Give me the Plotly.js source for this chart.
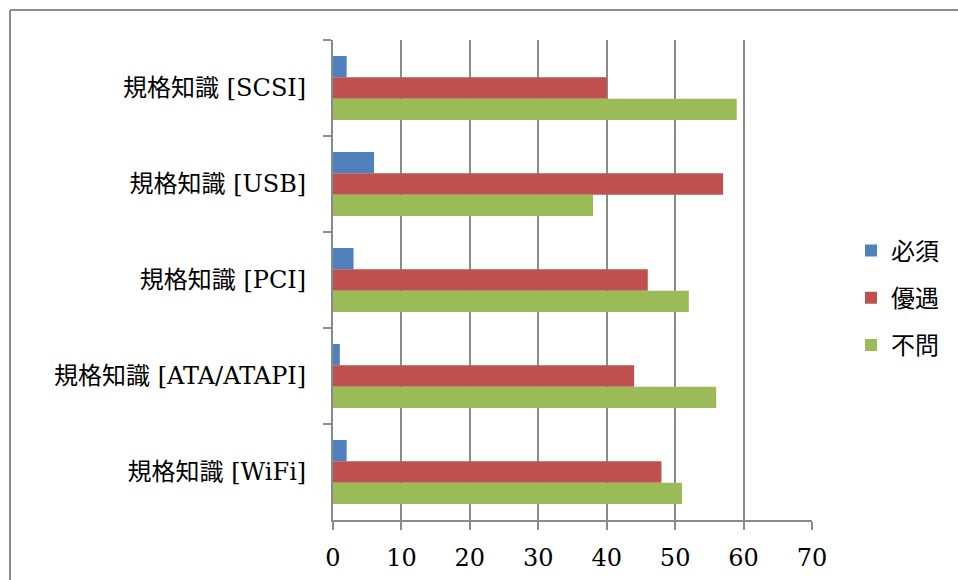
<!DOCTYPE html>
<html>
<head>
<meta charset="utf-8">
<script src="https://cdn.plot.ly/plotly-3.0.1.min.js"></script>
<style>
  html, body { margin: 0; padding: 0; background: #ffffff; }
  #chart { width: 958px; height: 580px; }
</style>
</head>
<body>
<div id="chart"></div>
<script>
// Categories (top to bottom as shown)
const categories = ["規格知識 [SCSI]", "規格知識 [USB]", "規格知識 [PCI]", "規格知識 [ATA/ATAPI]", "規格知識 [WiFi]"];
// Series names
const seriesNames = ["必須", "優遇", "不問"];
// Series values (same order as categories)
const hissu = [2, 6, 3, 1, 2];
const yuuguu = [40, 57, 46, 44, 48];
const fumon = [59, 38, 52, 56, 51];
// Axis ticks
const xTicks = [0, 10, 20, 30, 40, 50, 60, 70];

const colors = ["#4F81BD", "#C0504D", "#9BBB59"];
const seriesValues = [hissu, yuuguu, fumon];

const traces = seriesValues.map((vals, i) => ({
  type: "bar",
  orientation: "h",
  name: seriesNames[i],
  legendgroup: "g" + i,
  x: vals,
  y: categories,
  marker: { color: colors[i], line: { width: 0 } },
  hoverinfo: "x+y+name"
}));

const fontFamily = "'DejaVu Serif', 'Noto Sans CJK JP', serif";
const gridColor = "#8a8a8a";

// plot area: x 333..812, y 40..520
const L = 333, R = 958 - 812, T = 40, B = 580 - 520;
const pw = 958 - L - R, ph = 580 - T - B;
const px = v => (v - L) / pw;
const py = v => (580 - B - v) / ph;

const layout = {
  width: 958,
  height: 580,
  margin: { l: L, r: R, t: T, b: B, pad: 0 },
  paper_bgcolor: "#ffffff",
  plot_bgcolor: "#ffffff",
  font: { family: fontFamily, size: 24, color: "#000000" },
  barmode: "group",
  bargap: 0.333,
  bargroupgap: 0,
  showlegend: true,
  legend: {
    x: px(851), y: py(298), xanchor: "left", yanchor: "middle",
    traceorder: "grouped",
    tracegroupgap: 13,
    font: { family: fontFamily, size: 24, color: "#000000" },
    bgcolor: "rgba(0,0,0,0)",
    borderwidth: 0
  },
  xaxis: {
    range: [0, 70],
    tickmode: "array",
    tickvals: xTicks,
    ticktext: xTicks.map(String),
    showgrid: true,
    gridcolor: gridColor,
    gridwidth: 2,
    zeroline: false,
    showline: true,
    linecolor: gridColor,
    linewidth: 2,
    ticks: "outside",
    ticklen: 8,
    tickwidth: 2,
    tickcolor: gridColor,
    ticklabelstandoff: 7,
    tickfont: { family: fontFamily, size: 24, color: "#000000" },
    fixedrange: true
  },
  yaxis: {
    type: "category",
    categoryorder: "array",
    categoryarray: categories,
    range: [4.5, -0.5],
    autorange: false,
    showgrid: false,
    zeroline: false,
    showline: true,
    linecolor: gridColor,
    linewidth: 2,
    ticks: "outside",
    tickson: "boundaries",
    ticklen: 8,
    tickwidth: 2,
    tickcolor: gridColor,
    ticklabelstandoff: 20,
    tickfont: { family: fontFamily, size: 24, color: "#000000" },
    fixedrange: true
  },
  shapes: [
    { type: "line", xref: "paper", yref: "paper", x0: px(10), x1: px(10), y0: py(10), y1: py(600),
      line: { color: "#8c8c8c", width: 2 } },
    { type: "line", xref: "paper", yref: "paper", x0: px(10), x1: px(970), y0: py(10), y1: py(10),
      line: { color: "#8c8c8c", width: 2 } }
  ]
};

Plotly.newPlot("chart", traces, layout, { displayModeBar: false, staticPlot: true });
</script>
</body>
</html>
